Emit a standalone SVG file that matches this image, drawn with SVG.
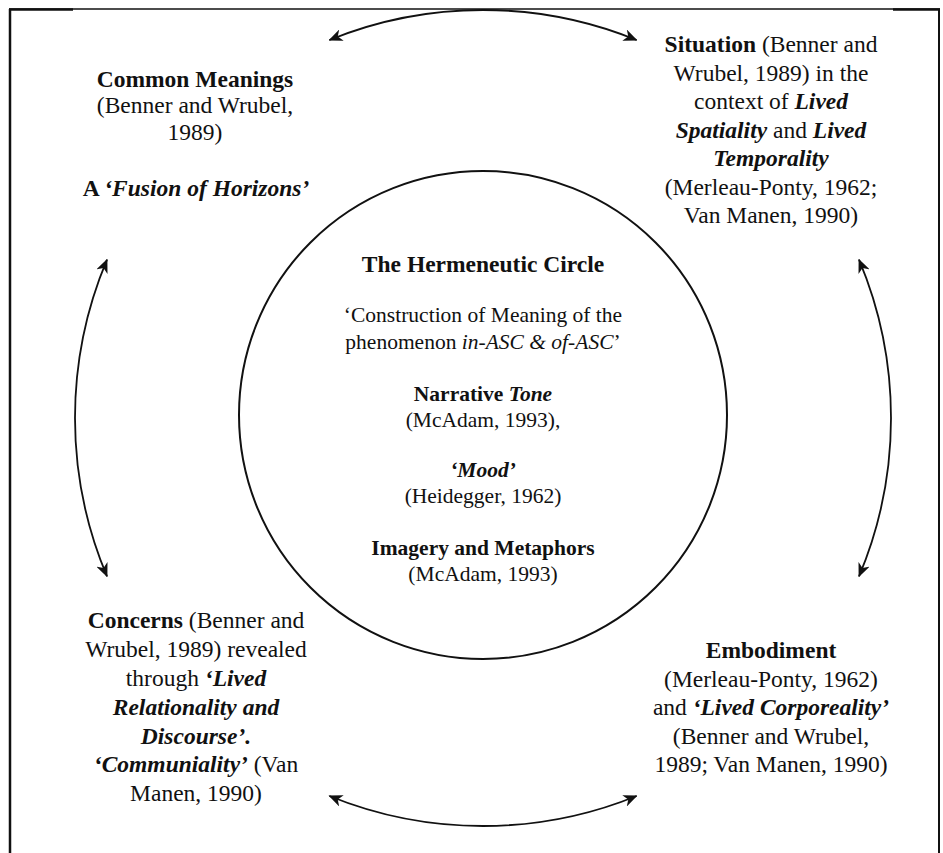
<svg xmlns="http://www.w3.org/2000/svg" width="943" height="853" viewBox="0 0 943 853">
<defs>
<style>
text{font-family:"Liberation Serif","Times New Roman",serif;fill:#111;text-anchor:middle}
.o{font-size:23.5px}
.c{font-size:21.5px}
.t{font-size:23.5px;font-weight:bold}
.b{font-weight:bold}
.bi{font-weight:bold;font-style:italic}
.i{font-style:italic}
.arc{fill:none;stroke:#111;stroke-width:1.8}
</style>
<marker id="ah" viewBox="0 0 14 12" refX="13" refY="6" markerWidth="14" markerHeight="12" markerUnits="userSpaceOnUse" orient="auto-start-reverse">
<path d="M0,0 L14,6 L0,12 L4,6 Z" fill="#111"/>
</marker>
</defs>
<rect width="943" height="853" fill="#fff"/>
<g id="frame" stroke="#111" fill="none">
<line x1="10" y1="9" x2="10" y2="853" stroke-width="2.5"/>
<line x1="9" y1="9" x2="940" y2="9" stroke-width="1.5"/>
<line x1="9" y1="9.5" x2="73" y2="9.5" stroke-width="2.5"/>
<line x1="893" y1="9.5" x2="940" y2="9.5" stroke-width="2.5"/>
<line x1="939" y1="9" x2="939" y2="853" stroke-width="2"/>
</g>
<g id="connectors">
<path class="arc" d="M 329.4 40 A 408 408 0 0 1 636.6 40" marker-start="url(#ah)" marker-end="url(#ah)"/>
<path class="arc" d="M 859 259.6 A 408 408 0 0 1 859 576.4" marker-start="url(#ah)" marker-end="url(#ah)"/>
<path class="arc" d="M 636.6 796 A 408 408 0 0 1 329.4 796" marker-start="url(#ah)" marker-end="url(#ah)"/>
<path class="arc" d="M 107 576.4 A 408 408 0 0 1 107 259.6" marker-start="url(#ah)" marker-end="url(#ah)"/>
</g>
<g id="hermeneutic-circle">
<circle cx="483" cy="415" r="244" fill="none" stroke="#111" stroke-width="2"/>
<text class="t" x="483" y="272">The Hermeneutic Circle</text>
<text class="c" x="483" y="322">‘Construction of Meaning of the</text>
<text class="c" x="483" y="348.5">phenomenon <tspan class="i">in-ASC &amp; of-ASC</tspan>’</text>
<text class="c" x="483" y="401"><tspan class="b">Narrative </tspan><tspan class="bi">Tone</tspan></text>
<text class="c" x="483" y="427">(McAdam, 1993),</text>
<text class="c" x="483" y="477"><tspan class="bi">‘Mood’</tspan></text>
<text class="c" x="483" y="503">(Heidegger, 1962)</text>
<text class="c" x="483" y="555"><tspan class="b">Imagery and Metaphors</tspan></text>
<text class="c" x="483" y="581">(McAdam, 1993)</text>
</g>
<g id="common-meanings">
<text class="o" x="195" y="87"><tspan class="b">Common Meanings</tspan></text>
<text class="o" x="195" y="113">(Benner and Wrubel,</text>
<text class="o" x="195" y="140">1989)</text>
<text class="o" x="196" y="196"><tspan class="b">A </tspan><tspan class="bi">‘Fusion of Horizons’</tspan></text>
</g>
<g id="situation">
<text class="o" x="771" y="52"><tspan class="b">Situation</tspan> (Benner and</text>
<text class="o" x="771" y="80.5">Wrubel, 1989) in the</text>
<text class="o" x="771" y="109">context of <tspan class="bi">Lived</tspan></text>
<text class="o" x="771" y="137.5"><tspan class="bi">Spatiality</tspan> and <tspan class="bi">Lived</tspan></text>
<text class="o" x="771" y="166"><tspan class="bi">Temporality</tspan></text>
<text class="o" x="771" y="194.5">(Merleau-Ponty, 1962;</text>
<text class="o" x="771" y="223">Van Manen, 1990)</text>
</g>
<g id="concerns">
<text class="o" x="196" y="628"><tspan class="b">Concerns</tspan> (Benner and</text>
<text class="o" x="196" y="657">Wrubel, 1989) revealed</text>
<text class="o" x="196" y="686">through <tspan class="bi">‘Lived</tspan></text>
<text class="o" x="196" y="715"><tspan class="bi">Relationality and</tspan></text>
<text class="o" x="196" y="743.5"><tspan class="bi">Discourse’.</tspan></text>
<text class="o" x="196" y="772"><tspan class="bi">‘Communiality’</tspan> (Van</text>
<text class="o" x="196" y="801">Manen, 1990)</text>
</g>
<g id="embodiment">
<text class="o" x="771" y="658"><tspan class="b">Embodiment</tspan></text>
<text class="o" x="771" y="686.5">(Merleau-Ponty, 1962)</text>
<text class="o" x="771" y="715">and <tspan class="bi">‘Lived Corporeality’</tspan></text>
<text class="o" x="771" y="743.5">(Benner and Wrubel,</text>
<text class="o" x="771" y="772">1989; Van Manen, 1990)</text>
</g>
</svg>
